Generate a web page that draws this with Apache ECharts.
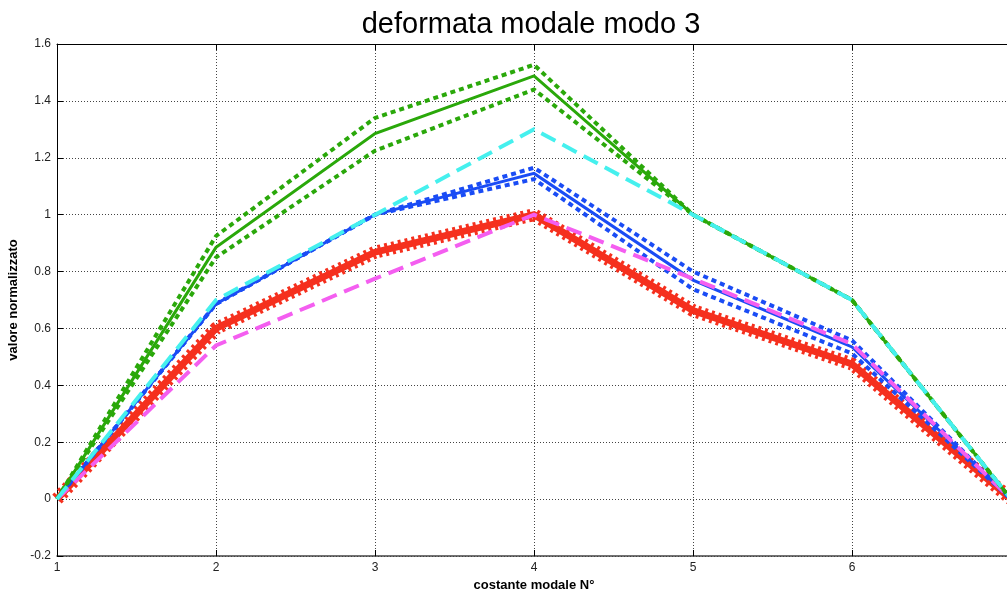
<!DOCTYPE html>
<html>
<head>
<meta charset="utf-8">
<script src="https://cdn.jsdelivr.net/npm/echarts@6/dist/echarts.min.js"></script>
<style>
  html, body { margin: 0; padding: 0; background: #fff; }
  #chart { width: 1007px; height: 595px; }
</style>
</head>
<body>
<div id="chart"></div>
<script>
// Modal constants on the x axis
const modes = [1, 2, 3, 4, 5, 6, 7];
const xTickLabels = ['1', '2', '3', '4', '5', '6', '7'];
const yTickLabels = ['-0.2', '0', '0.2', '0.4', '0.6', '0.8', '1', '1.2', '1.4', '1.6'];

// Normalised mode-shape values
const greenMain  = [0, 0.885, 1.285, 1.488, 1.0, 0.70, 0];
const greenUpper = [0, 0.925, 1.340, 1.527, 1.0, 0.70, 0];
const greenLower = [0, 0.850, 1.225, 1.440, 1.0, 0.70, 0];
const blueMain   = [0, 0.686, 1.0, 1.145, 0.770, 0.535, 0];
const blueUpper  = [0, 0.686, 1.0, 1.165, 0.800, 0.558, 0];
const blueLower  = [0, 0.686, 1.0, 1.125, 0.738, 0.512, 0];
const redMain    = [0, 0.600, 0.868, 1.0, 0.663, 0.475, 0];
const cyanLine   = [0, 0.700, 1.0, 1.300, 1.0, 0.700, 0];
const magentaLine= [0, 0.540, 0.775, 1.0, 0.775, 0.545, 0];

const pairs = ys => modes.map((x, i) => [x, ys[i]]);

const GREEN = '#2aa80a';
const BLUE = '#1a4cf5';
const RED = '#f5301e';
const CYAN = '#45f0ee';
const MAGENTA = '#f45ef0';

function line(name, ys, color, width, dash, z) {
  return {
    name, type: 'line', data: pairs(ys), showSymbol: false, symbol: 'none',
    z: z, silent: true, animation: false,
    lineStyle: { color, width, type: dash || 'solid', cap: 'butt', join: 'miter' }
  };
}

const chart = echarts.init(document.getElementById('chart'), null, { renderer: 'canvas' });

chart.setOption({
  animation: false,
  backgroundColor: '#fff',
  title: {
    text: 'deformata modale modo 3',
    left: 526, top: 5, textAlign: 'center',
    textStyle: { fontFamily: 'Liberation Sans', fontSize: 29, fontWeight: 'normal', color: '#000' }
  },
  grid: { left: 57, top: 44, width: 954, height: 512, containLabel: false, outerBoundsMode: 'none' },
  xAxis: [{
    type: 'value', min: 1, max: 7, interval: 1,
    name: 'costante modale N°', nameLocation: 'middle', nameGap: 23,
    nameTextStyle: { fontFamily: 'Liberation Sans', fontSize: 13, fontWeight: 'bold', color: '#000' },
    axisLine: { show: true, onZero: false, lineStyle: { color: '#444', width: 1.5 } },
    axisTick: { show: true, inside: true, length: 6, lineStyle: { color: '#000' } },
    axisLabel: {
      fontFamily: 'Liberation Sans', fontSize: 12, color: '#222', margin: 6,
      formatter: v => xTickLabels[Math.round(v) - 1]
    },
    splitLine: { show: true, lineStyle: { color: '#444', width: 1, type: [1, 2] } }
  }, {
    type: 'value', min: 1, max: 7, interval: 1, position: 'top',
    axisLine: { show: true, onZero: false, lineStyle: { color: '#000', width: 1 } },
    axisTick: { show: true, inside: true, length: 6, lineStyle: { color: '#000' } },
    axisLabel: { show: false }, splitLine: { show: false }
  }],
  yAxis: {
    type: 'value', min: -0.2, max: 1.6, interval: 0.2,
    name: 'valore normalizzato', nameLocation: 'middle', nameGap: 29, nameRotate: 90,
    nameTextStyle: { fontFamily: 'Liberation Sans', fontSize: 13, fontWeight: 'bold', color: '#000' },
    axisLine: { show: true, onZero: false, lineStyle: { color: '#000', width: 1 } },
    axisTick: { show: true, inside: true, length: 6, lineStyle: { color: '#000' } },
    axisLabel: {
      fontFamily: 'Liberation Sans', fontSize: 12, color: '#222', margin: 6,
      formatter: v => yTickLabels[Math.round((v + 0.2) / 0.2)]
    },
    splitLine: { show: true, lineStyle: { color: '#444', width: 1, type: [1, 2] } }
  },
  series: [
    // red curve: solid core plus a short-dash halo giving the cross-marker texture
    line('rosso', redMain, RED, 7, 'solid', 2),
    line('rosso marcatori', redMain, RED, 13, [3, 4], 2),
    line('blu sup', blueUpper, BLUE, 4, [5, 4], 3),
    line('blu inf', blueLower, BLUE, 4, [5, 4], 3),
    line('blu', blueMain, BLUE, 3, 'solid', 3),
    line('magenta', magentaLine, MAGENTA, 4, [16, 8], 4),
    line('verde sup', greenUpper, GREEN, 4, [5, 4], 5),
    line('verde inf', greenLower, GREEN, 4, [5, 4], 5),
    line('verde', greenMain, GREEN, 3, 'solid', 5),
    line('ciano', cyanLine, CYAN, 4, [16, 8], 6)
  ]
});
</script>
</body>
</html>
